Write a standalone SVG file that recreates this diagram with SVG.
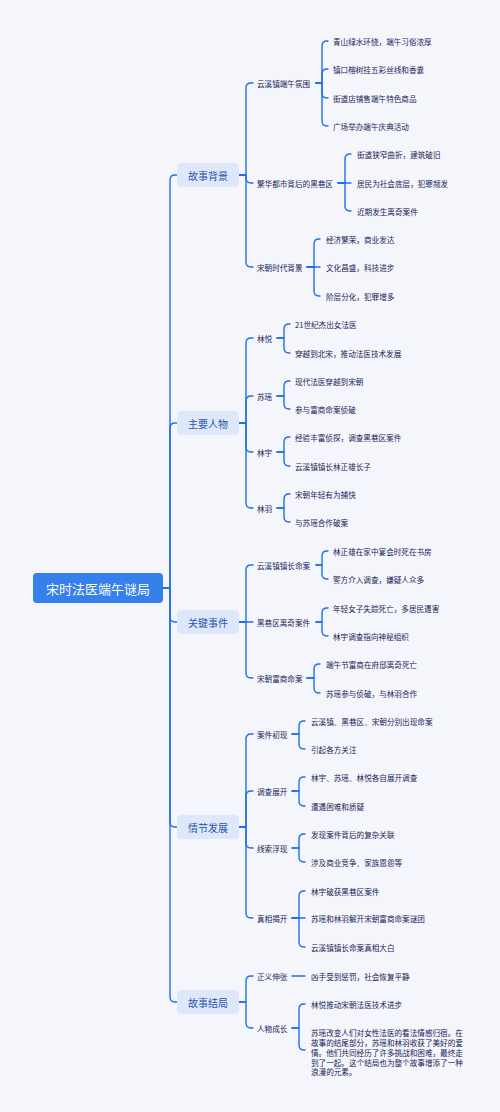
<svg xmlns="http://www.w3.org/2000/svg" width="500" height="1112" viewBox="0 0 500 1112">
<style>
text{font-family:"Noto Sans CJK SC","Noto Sans",sans-serif;dominant-baseline:central}
.root{fill:#3580EB}
.rt{fill:#fff;font-size:13px;text-anchor:middle}
.l1{fill:#DFE8FB}
.l1t{fill:#2854AC;font-size:10px;text-anchor:middle}
.t{fill:#15235A;font-size:7.6px}
.c{fill:none;stroke:#1F6FE8;stroke-width:1.4;stroke-linecap:round;stroke-linejoin:round}
</style>
<rect width="500" height="1112" fill="#F5F6FB"/>
<g id="connectors" class="c">
<path d="M163,588 H170 V180 Q170,175 175,175 H177"/>
<path d="M163,588 H170 V428 Q170,423 175,423 H177"/>
<path d="M163,588 H170 V617 Q170,622 175,622 H177"/>
<path d="M163,588 H170 V822 Q170,827 175,827 H177"/>
<path d="M163,588 H170 V997 Q170,1002 175,1002 H177"/>
<path d="M239,175 H246 V88 Q246,83 251,83 H253"/>
<path d="M239,175 H246 V178 Q246,183 251,183 H253"/>
<path d="M239,175 H246 V262 Q246,267 251,267 H253"/>
<path d="M239,423 H246 V343 Q246,338 251,338 H253"/>
<path d="M239,423 H246 V401 Q246,396 251,396 H253"/>
<path d="M239,423 H246 V447 Q246,452 251,452 H253"/>
<path d="M239,423 H246 V503 Q246,508 251,508 H253"/>
<path d="M239,622 H246 V570 Q246,565 251,565 H253"/>
<path d="M239,622 H253"/>
<path d="M239,622 H246 V673 Q246,678 251,678 H253"/>
<path d="M239,827 H246 V739 Q246,734 251,734 H253"/>
<path d="M239,827 H246 V796 Q246,791 251,791 H253"/>
<path d="M239,827 H246 V843 Q246,848 251,848 H253"/>
<path d="M239,827 H246 V913 Q246,918 251,918 H253"/>
<path d="M239,1002 H246 V981 Q246,976 251,976 H253"/>
<path d="M239,1002 H246 V1023 Q246,1028 251,1028 H253"/>
<path d="M316,83 H322 V46 Q322,41 327,41 H328"/>
<path d="M316,83 H322 V74 Q322,69 327,69 H328"/>
<path d="M316,83 H322 V93 Q322,98 327,98 H328"/>
<path d="M316,83 H322 V121 Q322,126 327,126 H328"/>
<path d="M338,183 H345 V159 Q345,154 350,154 H351"/>
<path d="M338,183 H351"/>
<path d="M338,183 H345 V206 Q345,211 350,211 H351"/>
<path d="M307,267 H314 V244 Q314,239 319,239 H320"/>
<path d="M307,267 H320"/>
<path d="M307,267 H314 V291 Q314,296 319,296 H320"/>
<path d="M277,338 H284 V329 Q284,324 289,324 H290"/>
<path d="M277,338 H284 V348 Q284,353 289,353 H290"/>
<path d="M277,396 H284 V386 Q284,381 289,381 H290"/>
<path d="M277,396 H284 V404 Q284,409 289,409 H290"/>
<path d="M277,452 H284 V442 Q284,437 289,437 H290"/>
<path d="M277,452 H284 V461 Q284,466 289,466 H290"/>
<path d="M277,508 H284 V499 Q284,494 289,494 H290"/>
<path d="M277,508 H284 V517 Q284,522 289,522 H290"/>
<path d="M316,565 H322 V556 Q322,551 327,551 H328"/>
<path d="M316,565 H322 V574 Q322,579 327,579 H328"/>
<path d="M316,622 H322 V613 Q322,608 327,608 H328"/>
<path d="M316,622 H322 V631 Q322,636 327,636 H328"/>
<path d="M307,678 H314 V669 Q314,664 319,664 H320"/>
<path d="M307,678 H314 V688 Q314,693 319,693 H320"/>
<path d="M292,734 H299 V726 Q299,721 304,721 H305"/>
<path d="M292,734 H299 V744 Q299,749 304,749 H305"/>
<path d="M292,791 H299 V782 Q299,777 304,777 H305"/>
<path d="M292,791 H299 V801 Q299,806 304,806 H305"/>
<path d="M292,848 H299 V839 Q299,834 304,834 H305"/>
<path d="M292,848 H299 V857 Q299,862 304,862 H305"/>
<path d="M292,918 H299 V896 Q299,891 304,891 H305"/>
<path d="M292,918 H305"/>
<path d="M292,918 H299 V942 Q299,947 304,947 H305"/>
<path d="M292,976 H305"/>
<path d="M292,1028 H299 V1009 Q299,1004 304,1004 H305"/>
<path d="M292,1028 H299 V1045 Q299,1050 304,1050 H305"/>
</g>
<g id="root"><rect class="root" x="33" y="573" width="130" height="30" rx="4"/><text class="rt" x="98" y="588">宋时法医端午谜局</text></g>
<g id="n-bg"><rect class="l1" x="177" y="163" width="62" height="24" rx="4"/><text class="l1t" x="208" y="175">故事背景</text></g>
<g id="n-rw"><rect class="l1" x="177" y="411" width="62" height="24" rx="4"/><text class="l1t" x="208" y="423">主要人物</text></g>
<g id="n-sj"><rect class="l1" x="177" y="610" width="62" height="24" rx="4"/><text class="l1t" x="208" y="622">关键事件</text></g>
<g id="n-qj"><rect class="l1" x="177" y="815" width="62" height="24" rx="4"/><text class="l1t" x="208" y="827">情节发展</text></g>
<g id="n-jj"><rect class="l1" x="177" y="990" width="62" height="24" rx="4"/><text class="l1t" x="208" y="1002">故事结局</text></g>
<g id="n-bg-1"><text class="t" x="257" y="83">云溪镇端午氛围</text></g>
<g id="n-bg-1-1"><text class="t" x="333" y="41">青山绿水环绕，端午习俗浓厚</text></g>
<g id="n-bg-1-2"><text class="t" x="333" y="69">镇口榕树挂五彩丝线和香囊</text></g>
<g id="n-bg-1-3"><text class="t" x="333" y="98">街道店铺售端午特色商品</text></g>
<g id="n-bg-1-4"><text class="t" x="333" y="126">广场举办端午庆典活动</text></g>
<g id="n-bg-2"><text class="t" x="257" y="183">繁华都市背后的黑巷区</text></g>
<g id="n-bg-2-1"><text class="t" x="357" y="154">街道狭窄曲折，建筑破旧</text></g>
<g id="n-bg-2-2"><text class="t" x="357" y="183">居民为社会底层，犯罪频发</text></g>
<g id="n-bg-2-3"><text class="t" x="357" y="211">近期发生离奇案件</text></g>
<g id="n-bg-3"><text class="t" x="257" y="267">宋朝时代背景</text></g>
<g id="n-bg-3-1"><text class="t" x="326" y="239">经济繁荣，商业发达</text></g>
<g id="n-bg-3-2"><text class="t" x="326" y="267">文化昌盛，科技进步</text></g>
<g id="n-bg-3-3"><text class="t" x="326" y="296">阶层分化，犯罪增多</text></g>
<g id="n-rw-1"><text class="t" x="257" y="338">林悦</text></g>
<g id="n-rw-1-1"><text class="t" x="295" y="324">21世纪杰出女法医</text></g>
<g id="n-rw-1-2"><text class="t" x="295" y="353">穿越到北宋，推动法医技术发展</text></g>
<g id="n-rw-2"><text class="t" x="257" y="396">苏瑶</text></g>
<g id="n-rw-2-1"><text class="t" x="295" y="381">现代法医穿越到宋朝</text></g>
<g id="n-rw-2-2"><text class="t" x="295" y="409">参与富商命案侦破</text></g>
<g id="n-rw-3"><text class="t" x="257" y="452">林宇</text></g>
<g id="n-rw-3-1"><text class="t" x="295" y="437">经验丰富侦探，调查黑巷区案件</text></g>
<g id="n-rw-3-2"><text class="t" x="295" y="466">云溪镇镇长林正雄长子</text></g>
<g id="n-rw-4"><text class="t" x="257" y="508">林羽</text></g>
<g id="n-rw-4-1"><text class="t" x="295" y="494">宋朝年轻有为捕快</text></g>
<g id="n-rw-4-2"><text class="t" x="295" y="522">与苏瑶合作破案</text></g>
<g id="n-sj-1"><text class="t" x="257" y="565">云溪镇镇长命案</text></g>
<g id="n-sj-1-1"><text class="t" x="333" y="551">林正雄在家中宴会时死在书房</text></g>
<g id="n-sj-1-2"><text class="t" x="333" y="579">警方介入调查，嫌疑人众多</text></g>
<g id="n-sj-2"><text class="t" x="257" y="622">黑巷区离奇案件</text></g>
<g id="n-sj-2-1"><text class="t" x="333" y="608">年轻女子失踪死亡，多居民遇害</text></g>
<g id="n-sj-2-2"><text class="t" x="333" y="636">林宇调查指向神秘组织</text></g>
<g id="n-sj-3"><text class="t" x="257" y="678">宋朝富商命案</text></g>
<g id="n-sj-3-1"><text class="t" x="326" y="664">端午节富商在府邸离奇死亡</text></g>
<g id="n-sj-3-2"><text class="t" x="326" y="693">苏瑶参与侦破，与林羽合作</text></g>
<g id="n-qj-1"><text class="t" x="257" y="734">案件初现</text></g>
<g id="n-qj-1-1"><text class="t" x="311" y="721">云溪镇、黑巷区、宋朝分别出现命案</text></g>
<g id="n-qj-1-2"><text class="t" x="311" y="749">引起各方关注</text></g>
<g id="n-qj-2"><text class="t" x="257" y="791">调查展开</text></g>
<g id="n-qj-2-1"><text class="t" x="311" y="777">林宇、苏瑶、林悦各自展开调查</text></g>
<g id="n-qj-2-2"><text class="t" x="311" y="806">遭遇困难和质疑</text></g>
<g id="n-qj-3"><text class="t" x="257" y="848">线索浮现</text></g>
<g id="n-qj-3-1"><text class="t" x="311" y="834">发现案件背后的复杂关联</text></g>
<g id="n-qj-3-2"><text class="t" x="311" y="862">涉及商业竞争、家族恩怨等</text></g>
<g id="n-qj-4"><text class="t" x="257" y="918">真相揭开</text></g>
<g id="n-qj-4-1"><text class="t" x="311" y="891">林宇破获黑巷区案件</text></g>
<g id="n-qj-4-2"><text class="t" x="311" y="918">苏瑶和林羽解开宋朝富商命案谜团</text></g>
<g id="n-qj-4-3"><text class="t" x="311" y="947">云溪镇镇长命案真相大白</text></g>
<g id="n-jj-1"><text class="t" x="257" y="976">正义伸张</text></g>
<g id="n-jj-1-1"><text class="t" x="311" y="976">凶手受到惩罚，社会恢复平静</text></g>
<g id="n-jj-2"><text class="t" x="257" y="1028">人物成长</text></g>
<g id="n-jj-2-1"><text class="t" x="311" y="1004">林悦推动宋朝法医技术进步</text></g>
<g id="n-jj-2-2"><text class="t" x="311" y="1032">苏瑶改变人们对女性法医的看法情感归宿。在<tspan x="311" y="1042">故事的结尾部分，苏瑶和林羽收获了美好的爱</tspan><tspan x="311" y="1052">情。他们共同经历了许多挑战和困难，最终走</tspan><tspan x="311" y="1061.5">到了一起。这个结局也为整个故事增添了一种</tspan><tspan x="311" y="1071">浪漫的元素。</tspan></text></g>
</svg>
